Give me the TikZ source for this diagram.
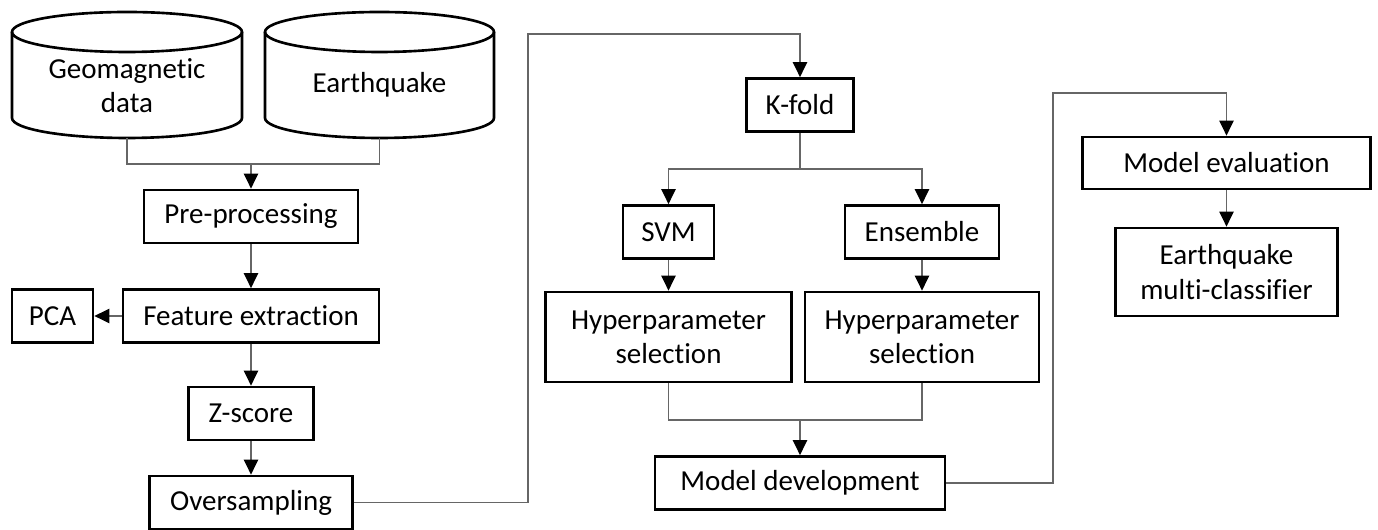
\documentclass[tikz,border=0pt]{standalone}
\usepackage{fontspec}
\setmainfont{Carlito}[Ligatures=NoCommon]
\usetikzlibrary{arrows.meta}

\begin{document}
\begin{tikzpicture}[
  font=\fontsize{16.5pt}{19.5pt}\selectfont,
  box/.style={rectangle, draw, line width=1.5pt, minimum height=1.06cm, align=center, inner sep=2pt},
  db/.style={draw, line width=1.5pt},
  e/.style={line width=1pt, black!60},
  arr/.style={e, -{Triangle[length=8.5pt, width=8pt, color=black]}}
]
\useasboundingbox (0,0) rectangle (27.56,10.6);

% --- data sources (cylinders) ---
\draw[db] (0.24,9.96) -- (0.24,8.24) arc (180:360:2.30 and 0.40) -- (4.84,9.96);
\draw[db] (2.54,9.96) ellipse (2.30 and 0.40);
\draw[db] (5.30,9.96) -- (5.30,8.24) arc (180:360:2.29 and 0.40) -- (9.88,9.96);
\draw[db] (7.59,9.96) ellipse (2.29 and 0.40);
\node[align=center] (geo) at (2.54,8.88) {Geomagnetic\\data};
\node (quake) at (7.59,8.90) {Earthquake};
\coordinate (geob) at (2.54,7.84);
\coordinate (quakeb) at (7.59,7.84);
\coordinate (join) at (5.02,7.32);

% --- preparation column ---
\node[box, minimum width=4.28cm] (pre)  at (5.02,6.27) {Pre-processing};
\node[box, minimum width=5.12cm] (feat) at (5.02,4.28) {Feature extraction};
\node[box, minimum width=1.62cm] (pca)  at (1.05,4.28) {PCA};
\node[box, minimum width=2.50cm] (zs)   at (5.02,2.33) {Z-score};
\node[box, minimum width=4.06cm] (over) at (5.02,0.55) {Oversampling};

% --- training ---
\node[box, minimum width=2.14cm] (kfold) at (16.00,8.50) {K-fold};
\node[box, minimum width=1.82cm] (svm)   at (13.37,5.96) {SVM};
\node[box, minimum width=3.08cm] (ens)   at (18.44,5.96) {Ensemble};
\node[box, minimum width=4.92cm, minimum height=1.8cm] (hs1) at (13.37,3.86) {Hyperparameter\\selection};
\node[box, minimum width=4.68cm, minimum height=1.8cm] (hs2) at (18.44,3.86) {Hyperparameter\\selection};
\node[box, minimum width=5.80cm] (mdev)  at (16.00,0.94) {Model development};
\coordinate (split) at (16.00,7.22);
\coordinate (merge) at (16.00,2.20);

% --- evaluation ---
\node[box, minimum width=5.76cm, minimum height=1.04cm] (meval) at (24.53,7.34) {Model evaluation};
\node[box, minimum width=4.44cm, minimum height=1.76cm] (emc) at (24.53,5.16) {Earthquake\\multi-classifier};

% --- bends of the long links ---
\coordinate (c1) at (10.56,0.55);
\coordinate (c2) at (10.56,9.92);
\coordinate (c3) at (21.06,0.94);
\coordinate (c4) at (21.06,8.74);

% --- edges ---
\draw[e] (geob) |- (join);
\draw[e] (quakeb) |- (join);
\draw[arr] (join) -- (pre);
\draw[arr] (pre) -- (feat);
\draw[arr] (feat) -- (pca);
\draw[arr] (feat) -- (zs);
\draw[arr] (zs) -- (over);
\draw[arr] (over) -- (c1) -- (c2) -| (kfold);
\draw[e] (kfold) -- (split);
\draw[arr] (split) -| (svm);
\draw[arr] (split) -| (ens);
\draw[arr] (svm) -- (hs1);
\draw[arr] (ens) -- (hs2);
\draw[e] (hs1) |- (merge);
\draw[e] (hs2) |- (merge);
\draw[arr] (merge) -- (mdev);
\draw[arr] (mdev) -- (c3) -- (c4) -| (meval);
\draw[arr] (meval) -- (emc);

\end{tikzpicture}
\end{document}
